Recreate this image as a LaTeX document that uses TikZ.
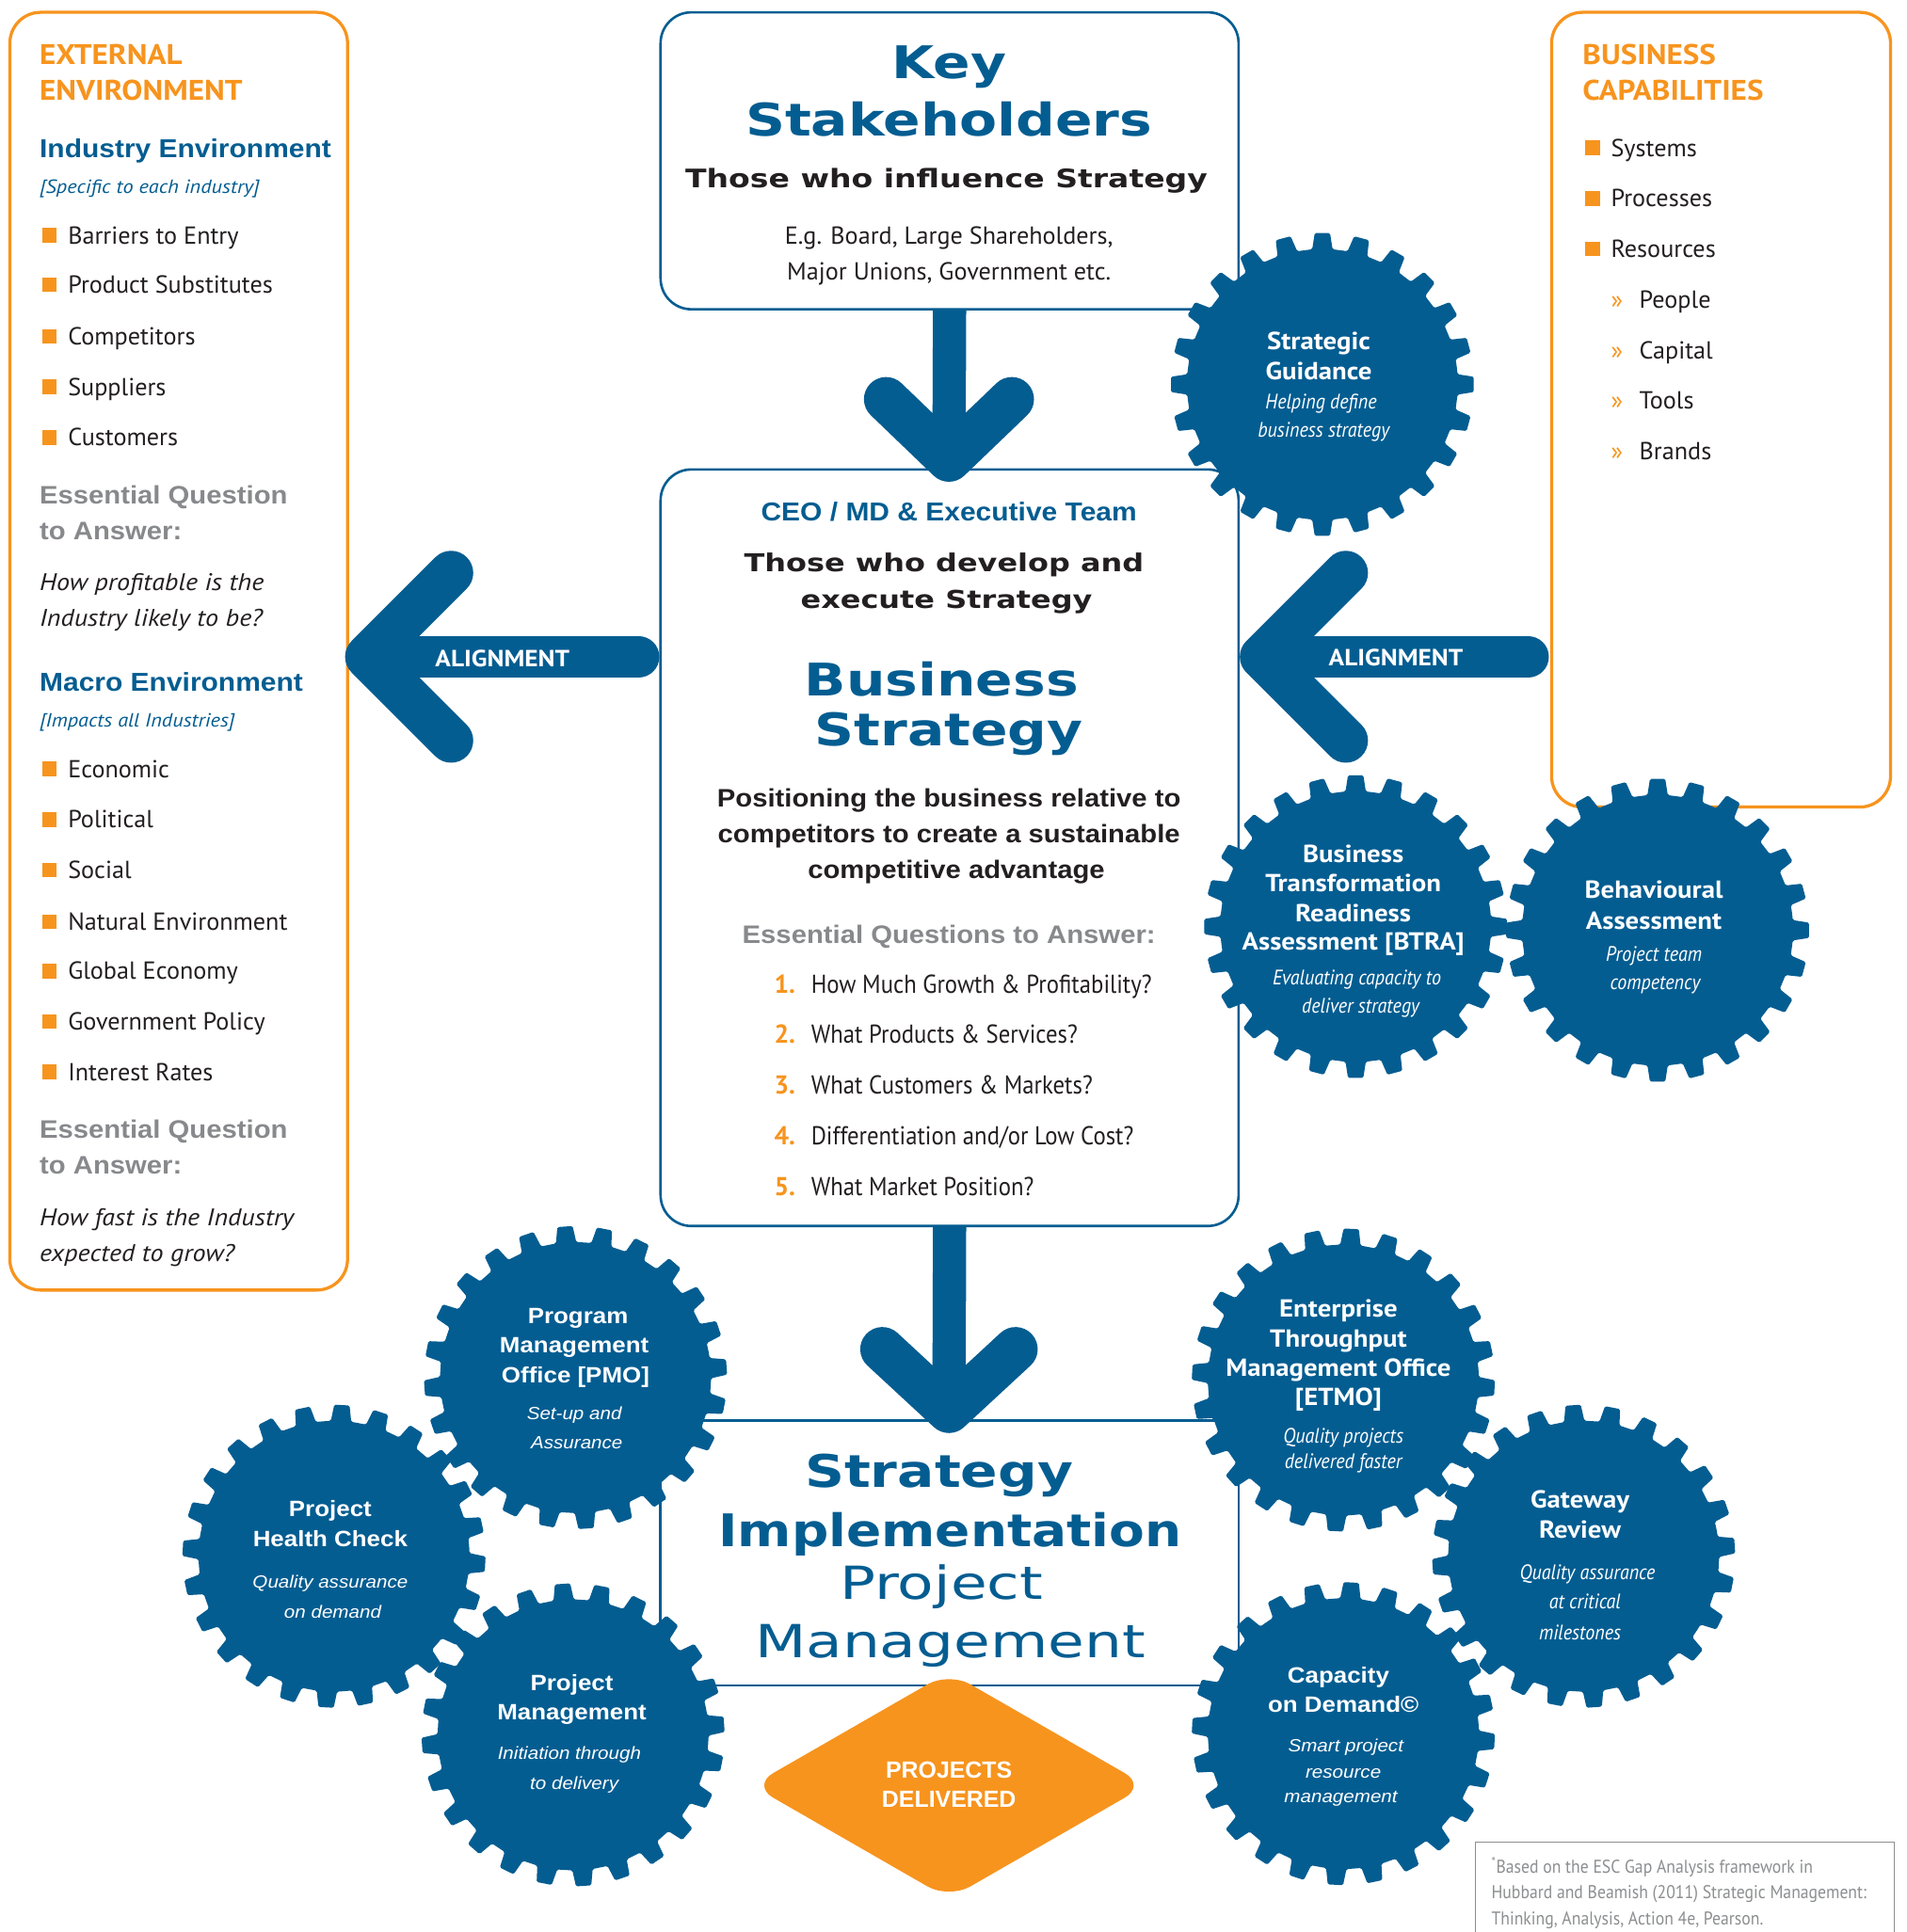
\documentclass[tikz,border=0pt]{standalone}
\usepackage{fontspec}
\setmainfont{PT Sans}
\newfontfamily\dinf[FakeStretch=0.9]{PT Sans}
\newfontfamily\dinr{PT Sans}
\newfontfamily\dinw[FakeStretch=1.1]{PT Sans}
\newfontfamily\heavyf{Liberation Sans}
\newfontfamily\heavyw[FakeStretch=1.09]{Liberation Sans}
\newfontfamily\heavyx[FakeStretch=1.1]{Liberation Sans}
\newfontfamily\extf[FakeStretch=1.22]{DejaVu Sans}
\newfontfamily\extg[FakeStretch=1.15]{DejaVu Sans}
\newfontfamily\extlf[FakeStretch=1.3]{DejaVu Sans}
\definecolor{bl}{HTML}{045D91}
\definecolor{og}{HTML}{F7941E}
\definecolor{gr}{HTML}{87898C}
\definecolor{tx}{HTML}{231F20}
\definecolor{fn}{HTML}{8C8E90}
\newcommand\gear[3]{%
  \begin{scope}[shift={(#1,#2)}]
  \fill[bl, rounded corners=1.2] ({#3-7.5}:110)
    \foreach \k in {0,...,23}{ -- ({#3+\k*15-4.3}:110) -- ({#3+\k*15-2.9}:123)
      -- ({#3+\k*15+2.9}:123) -- ({#3+\k*15+4.3}:110)} -- cycle;
  \end{scope}}
\newcommand\sqb[2]{\fill[og] (#1,#2-13) rectangle ++(12,12);}
\tikzset{
  tl/.style={anchor=base west, inner sep=0},
  tc/.style={anchor=base, inner sep=0},
  body/.style={font=\dinr\fontsize{20}{24}\selectfont, text=tx},
  bodyq/.style={font=\dinf\fontsize{21}{26}\selectfont, text=tx},
  bodyit/.style={font=\dinw\itshape\fontsize{19.5}{24}\selectfont, text=tx},
  ohead/.style={font=\dinw\bfseries\fontsize{23}{28}\selectfont, text=og},
  bhead/.style={font=\heavyw\bfseries\fontsize{21}{25}\selectfont, text=bl},
  ghead/.style={font=\heavyw\bfseries\fontsize{20.5}{25}\selectfont, text=gr},
  posn/.style={font=\heavyw\bfseries\fontsize{20.5}{24}\selectfont, text=tx},
  bsub/.style={font=\dinw\itshape\fontsize{15.5}{18}\selectfont, text=bl},
  extb/.style={font=\extf\bfseries\fontsize{36.5}{40}\selectfont, text=bl},
  extm/.style={font=\extf\bfseries\fontsize{20}{25}\selectfont, text=tx},
  extl/.style={font=\extlf\fontsize{37}{40}\selectfont, text=bl},
  gt/.style={font=\dinw\bfseries\fontsize{20}{24}\selectfont, text=white},
  gs/.style={font=\dinf\itshape\fontsize{17}{20}\selectfont, text=white},
  gtx/.style={font=\heavyx\bfseries\fontsize{18}{22}\selectfont, text=white},
  gsx/.style={font=\heavyx\itshape\fontsize{14.3}{18}\selectfont, text=white},
  numb/.style={font=\dinr\bfseries\fontsize{21}{26}\selectfont, text=og},
  alignt/.style={font=\dinw\bfseries\fontsize{19}{22}\selectfont, text=white},
  pdel/.style={font=\heavyf\bfseries\fontsize{19}{22}\selectfont, text=white},
  foot/.style={font=\dinf\fontsize{15}{18}\selectfont, text=fn},
  kbox/.style={draw=bl, line width=2, rounded corners=25, inner sep=0},
  obox/.style={draw=og, line width=2.5, rounded corners=25, inner sep=0},
  shaft/.style={draw=bl, line width=27},
  chev/.style={draw=bl, line width=36, line cap=round, line join=round},
  abar/.style={draw=bl, line width=34, line cap=round},
}
\begin{document}
\begin{tikzpicture}[x=1pt,y=-1pt]
\useasboundingbox (0,0) rectangle (1547,1568);
\fill[white] (0,0) rectangle (1547,1568);
% boxes
\node[obox, minimum width=274, minimum height=1037] (ext) at (145,528.5) {};
\node[obox, minimum width=275, minimum height=645] (cap) at (1396.5,332.5) {};
\node[kbox, minimum width=469, minimum height=241] (ks) at (770.5,130.5) {};
\node[kbox, minimum width=469, minimum height=614] (bs) at (770.5,688) {};
\node[draw=bl, line width=2, inner sep=0, minimum width=469, minimum height=215] (si) at (770.5,1260.5) {};
\node[draw=fn, line width=1, inner sep=0, minimum width=340, minimum height=90] (fb) at (1367,1540) {};
% arrows
\coordinate (d1) at (770,373);
\draw[shaft] (ks.south) -- (d1);
\draw[chev] (719,324) -- (d1) -- (821,324);
\coordinate (d2) at (770,1145);
\draw[shaft] (bs.south) -- (d2);
\draw[chev] (716,1095) -- (d2) -- (824,1095);
\coordinate (la) at (298,533);
\draw[abar, shorten >=17] (la) -- (la -| bs.west);
\draw[chev] (366,465) -- (la) -- (366,601);
\coordinate (ra) at (1024,533);
\draw[abar, shorten >=18] (ra) -- (ra -| cap.west);
\draw[chev] (1092,465) -- (ra) -- (1092,601);
\node[tl, alignt] (al1) at (353,541) {ALIGNMENT};
\node[tl, alignt] (al2) at (1078,540) {ALIGNMENT};
% diamond
\fill[og, rounded corners=20] (610,1449) -- (770,1357) -- (930,1449) -- (770,1541) -- cycle;
\node[tc, pdel] (pd1) at (770,1443) {PROJECTS};
\node[tc, pdel] (pd2) at (770,1467) {DELIVERED};
% gears
\gear{1073}{312}{0}
\gear{1100}{752}{0}
\gear{1345}{755}{0}
\gear{467}{1118}{-4}
\gear{271}{1263}{3}
\gear{465}{1408}{-4}
\gear{1090}{1120}{3}
\gear{1285}{1263}{-4}
\gear{1090}{1407}{3}
% left box text
\node[tl, ohead] (e1) at (32,52) {EXTERNAL};
\node[tl, ohead] (e2) at (32,81) {ENVIRONMENT};
\node[tl, bhead] (ie) at (32,128) {Industry Environment};
\node[tl, bsub] (ie2) at (32,157) {[Specific to each industry]};
\sqb{34}{198}\node[tl, body] (i1) at (55,198) {Barriers to Entry};
\sqb{34}{238}\node[tl, body] (i2) at (55,238) {Product Substitutes};
\sqb{34}{280}\node[tl, body] (i3) at (55,280) {Competitors};
\sqb{34}{321}\node[tl, body] (i4) at (55,321) {Suppliers};
\sqb{34}{362}\node[tl, body] (i5) at (55,362) {Customers};
\node[tl, ghead] (q1) at (32,409) {Essential Question};
\node[tl, ghead] (q2) at (32,438) {to Answer:};
\node[tl, bodyit] (q3) at (32,479) {How profitable is the};
\node[tl, bodyit] (q4) at (32,508) {Industry likely to be?};
\node[tl, bhead] (me) at (32,561) {Macro Environment};
\node[tl, bsub] (me2) at (32,590) {[Impacts all Industries]};
\sqb{34}{631}\node[tl, body] (m1) at (55,631) {Economic};
\sqb{34}{672}\node[tl, body] (m2) at (55,672) {Political};
\sqb{34}{713}\node[tl, body] (m3) at (55,713) {Social};
\sqb{34}{755}\node[tl, body] (m4) at (55,755) {Natural Environment};
\sqb{34}{795}\node[tl, body] (m5) at (55,795) {Global Economy};
\sqb{34}{836}\node[tl, body] (m6) at (55,836) {Government Policy};
\sqb{34}{877}\node[tl, body] (m7) at (55,877) {Interest Rates};
\node[tl, ghead] (r1) at (32,924) {Essential Question};
\node[tl, ghead] (r2) at (32,953) {to Answer:};
\node[tl, bodyit] (r3) at (32,995) {How fast is the Industry};
\node[tl, bodyit] (r4) at (32,1024) {expected to grow?};
% right box text
\node[tl, ohead] (c1) at (1284,52) {BUSINESS};
\node[tl, ohead] (c2) at (1284,81) {CAPABILITIES};
\sqb{1286}{127}\node[tl, body] (c3) at (1307,127) {Systems};
\sqb{1286}{168}\node[tl, body] (c4) at (1307,168) {Processes};
\sqb{1286}{209}\node[tl, body] (c5) at (1307,209) {Resources};
\node[tl, body, text=og] (c6a) at (1307,250) {»};\node[tl, body] (c6) at (1330,250) {People};
\node[tl, body, text=og] (c7a) at (1307,291) {»};\node[tl, body] (c7) at (1330,291) {Capital};
\node[tl, body, text=og] (c8a) at (1307,332) {»};\node[tl, body] (c8) at (1330,332) {Tools};
\node[tl, body, text=og] (c9a) at (1307,373) {»};\node[tl, body] (c9) at (1330,373) {Brands};
% key stakeholders
\node[tc, extb] (k1) at (770,64) {Key};
\node[tc, extb] (k2) at (770,110) {Stakeholders};
\node[tc, extm, font=\extf\bfseries\fontsize{20.7}{25}\selectfont] (k3) at (768,152) {Those who influence Strategy};
\node[tc, body] (k4) at (770,198) {E.g. Board, Large Shareholders,};
\node[tc, body] (k5) at (770,227) {Major Unions, Government etc.};
% business strategy
\node[tc, bhead] (b1) at (770,423) {CEO / MD \& Executive Team};
\node[tc, extm] (b2) at (766,464) {Those who develop and};
\node[tc, extm] (b3) at (768,494) {execute Strategy};
\node[tc, extb] (b4) at (764,565) {Business};
\node[tc, extb] (b5) at (770,605) {Strategy};
\node[tc, posn] (b6) at (770,655) {Positioning the business relative to};
\node[tc, posn] (b7) at (770,684) {competitors to create a sustainable};
\node[tc, posn] (b8) at (776,713) {competitive advantage};
\node[tc, ghead] (b9) at (770,766) {Essential Questions to Answer:};
\node[tl, numb] (n1) at (628,806) {1.};\node[tl, bodyq] (t1) at (658,806) {How Much Growth \& Profitability?};
\node[tl, numb] (n2) at (628,847) {2.};\node[tl, bodyq] (t2) at (658,847) {What Products \& Services?};
\node[tl, numb] (n3) at (628,888) {3.};\node[tl, bodyq] (t3) at (658,888) {What Customers \& Markets?};
\node[tl, numb] (n4) at (628,929) {4.};\node[tl, bodyq] (t4) at (658,929) {Differentiation and/or Low Cost?};
\node[tl, numb] (n5) at (628,970) {5.};\node[tl, bodyq] (t5) at (658,970) {What Market Position?};
% strategy implementation
\node[tc, extb] (s1) at (762,1207) {Strategy};
\node[tc, extb, font=\extg\bfseries\fontsize{36.5}{40}\selectfont] (s2) at (771,1255) {Implementation};
\node[tc, extl] (s3) at (764,1298) {Project};
\node[tc, extl] (s4) at (771,1345) {Management};
% gear texts
\node[tc, gt] (sg1) at (1070,284) {Strategic};
\node[tc, gt] (sg2) at (1070,308) {Guidance};
\node[tc, gs] (sg3) at (1072,332) {Helping define};
\node[tc, gs] (sg4) at (1074,355) {business strategy};
\node[tc, gt] (bt1) at (1098,700) {Business};
\node[tc, gt] (bt2) at (1098,724) {Transformation};
\node[tc, gt] (bt3) at (1098,748) {Readiness};
\node[tc, gt] (bt4) at (1098,771) {Assessment [BTRA]};
\node[tc, gs] (bt5) at (1101,799) {Evaluating capacity to};
\node[tc, gs] (bt6) at (1104,822) {deliver strategy};
\node[tc, gt] (ba1) at (1342,729) {Behavioural};
\node[tc, gt] (ba2) at (1342,754) {Assessment};
\node[tc, gs] (ba3) at (1342,780) {Project team};
\node[tc, gs] (ba4) at (1343,803) {competency};
\node[tc, gtx] (pm1) at (469,1074) {Program};
\node[tc, gtx] (pm2) at (466,1098) {Management};
\node[tc, gtx] (pm3) at (467,1122) {Office [PMO]};
\node[tc, gsx] (pm4) at (466,1152) {Set-up and};
\node[tc, gsx] (pm5) at (468,1176) {Assurance};
\node[tc, gtx] (ph1) at (268,1231) {Project};
\node[tc, gtx] (ph2) at (268,1255) {Health Check};
\node[tc, gsx] (ph3) at (268,1289) {Quality assurance};
\node[tc, gsx] (ph4) at (270,1313) {on demand};
\node[tc, gtx] (pj1) at (464,1372) {Project};
\node[tc, gtx] (pj2) at (464,1396) {Management};
\node[tc, gsx] (pj3) at (462,1428) {Initiation through};
\node[tc, gsx] (pj4) at (466,1452) {to delivery};
\node[tc, gt] (et1) at (1086,1069) {Enterprise};
\node[tc, gt] (et2) at (1086,1093) {Throughput};
\node[tc, gt] (et3) at (1086,1117) {Management Office};
\node[tc, gt] (et4) at (1086,1141) {[ETMO]};
\node[tc, gs] (et5) at (1090,1171) {Quality projects};
\node[tc, gs] (et6) at (1090,1192) {delivered faster};
\node[tc, gt] (gw1) at (1282,1224) {Gateway};
\node[tc, gt] (gw2) at (1282,1248) {Review};
\node[tc, gs] (gw3) at (1288,1282) {Quality assurance};
\node[tc, gs] (gw4) at (1286,1306) {at critical};
\node[tc, gs] (gw5) at (1282,1331) {milestones};
\node[tc, gtx] (cd1) at (1086,1366) {Capacity};
\node[tc, gtx] (cd2) at (1090,1390) {on Demand©};
\node[tc, gsx] (cd3) at (1092,1422) {Smart project};
\node[tc, gsx] (cd4) at (1090,1443) {resource};
\node[tc, gsx] (cd5) at (1088,1463) {management};
% footnote
\node[tl, foot] (f1) at (1210,1520) {\textsuperscript{*}Based on the ESC Gap Analysis framework in};
\node[tl, foot] (f2) at (1210,1541) {Hubbard and Beamish (2011) Strategic Management:};
\node[tl, foot] (f3) at (1210,1562) {Thinking, Analysis, Action 4e, Pearson.};
\end{tikzpicture}
\end{document}
